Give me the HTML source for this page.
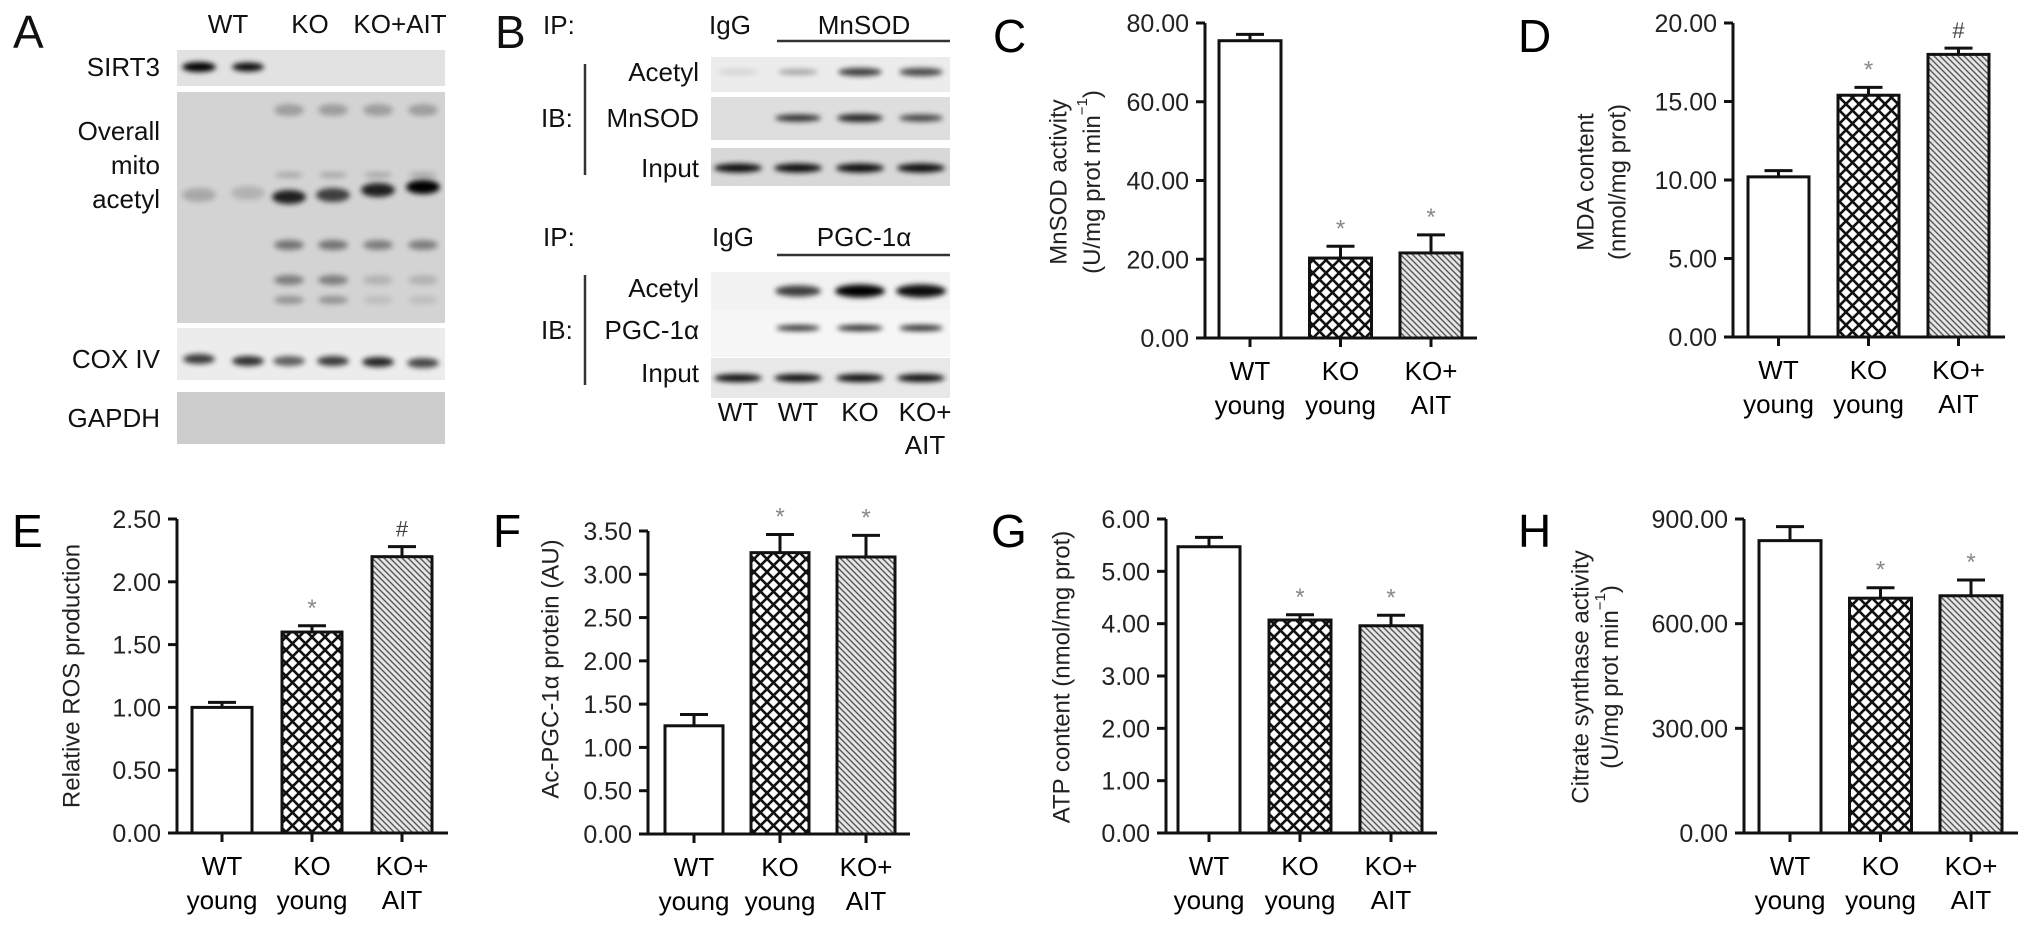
<!DOCTYPE html>
<html><head><meta charset="utf-8">
<style>
html,body{margin:0;padding:0;background:#fff;}
svg{display:block;font-family:"Liberation Sans",Arial,sans-serif;}
</style></head>
<body>
<svg id="fig" width="2032" height="929" viewBox="0 0 2032 929" xmlns="http://www.w3.org/2000/svg">
<defs>
  <filter id="blur3" x="-50%" y="-100%" width="200%" height="300%"><feGaussianBlur stdDeviation="2.6"/></filter>
  <filter id="blur1" x="-20%" y="-20%" width="140%" height="140%"><feGaussianBlur stdDeviation="1.2"/></filter>
  <pattern id="cross" patternUnits="userSpaceOnUse" width="13" height="13">
    <rect width="13" height="13" fill="#fff"/>
    <path d="M0,0 L13,13 M13,0 L0,13 M-1,12 L1,14 M12,-1 L14,1" stroke="#111" stroke-width="2.6"/>
  </pattern>
  <pattern id="diag" patternUnits="userSpaceOnUse" width="6" height="6">
    <rect width="6" height="6" fill="#e6e6e6"/>
    <path d="M-1,-1 L7,7 M-1,5 L1,7 M5,-1 L7,1" stroke="#555" stroke-width="1.4"/>
  </pattern>
</defs>
<g id="blots"></g>
<g id="charts"></g>
</svg>
<script>
// ---- chart data ----
const categoriesLine1 = ["WT", "KO", "KO+"];
const categoriesLine2 = ["young", "young", "AIT"];
const mnsodValues = [75.5, 20.3, 21.6];
const mnsodErrors = [1.6, 3.0, 4.6];
const mnsodMarks = ["", "*", "*"];
const mnsodTicks = [0, 20, 40, 60, 80];
const mdaValues = [10.2, 15.4, 18.0];
const mdaErrors = [0.4, 0.5, 0.4];
const mdaMarks = ["", "*", "#"];
const mdaTicks = [0, 5, 10, 15, 20];
const rosValues = [1.0, 1.6, 2.2];
const rosErrors = [0.04, 0.05, 0.08];
const rosMarks = ["", "*", "#"];
const rosTicks = [0, 0.5, 1.0, 1.5, 2.0, 2.5];
const pgcValues = [1.25, 3.25, 3.2];
const pgcErrors = [0.13, 0.21, 0.25];
const pgcMarks = ["", "*", "*"];
const pgcTicks = [0, 0.5, 1.0, 1.5, 2.0, 2.5, 3.0, 3.5];
const atpValues = [5.47, 4.07, 3.96];
const atpErrors = [0.18, 0.1, 0.2];
const atpMarks = ["", "*", "*"];
const atpTicks = [0, 1, 2, 3, 4, 5, 6];
const csValues = [838, 673, 680];
const csErrors = [40, 30, 45];
const csMarks = ["", "*", "*"];
const csTicks = [0, 300, 600, 900];

const NS = "http://www.w3.org/2000/svg";
function mk(parent, tag, attrs, text) {
  const e = document.createElementNS(NS, tag);
  for (const k in attrs) e.setAttribute(k, attrs[k]);
  if (text !== undefined) e.textContent = text;
  parent.appendChild(e);
  return e;
}
const charts = document.getElementById('charts');
const blots = document.getElementById('blots');
const fills = ["#fff", "url(#cross)", "url(#diag)"];

function drawChart(id, letter, letterPos, L, values, errors, marks, ticks, titleLines, titlePos) {
  const g = mk(charts, 'g', {});
  
  
  const max = ticks[ticks.length - 1];
  const yScale = v => L.y0 - (v / max) * (L.y0 - L.yTop);
  const xBar = i => L.bar0 + i * L.step;
  const lt = mk(g, 'text', {x: letterPos[0], y: letterPos[1], 'font-size': 46}, letter);
  
  
  // bars
  values.forEach((v, i) => {
    const x = xBar(i), yt = yScale(v), ye = yScale(v + errors[i]), cx = x + L.w / 2;
    const eb = mk(g, 'path', {d: `M${cx},${yt} L${cx},${ye} M${cx-14},${ye} L${cx+14},${ye}`, stroke: '#111', 'stroke-width': 3, fill: 'none'});
    
    
    const b = mk(g, 'rect', {x: x, y: yt, width: L.w, height: L.y0 - yt, fill: fills[i], stroke: '#111', 'stroke-width': 3});
    
    
    if (marks[i]) {
      const m = mk(g, 'text', {x: cx, y: ye - 10, 'text-anchor': 'middle', 'font-size': marks[i] === '*' ? 24 : 22, fill: marks[i] === '*' ? '#888' : '#444'}, marks[i]);
      
      
    }
    const xt = mk(g, 'line', {x1: cx, x2: cx, y1: L.y0, y2: L.y0 + 9, stroke: '#111', 'stroke-width': 3});
    
    
    const c1 = mk(g, 'text', {x: cx, y: L.y0 + 42, 'text-anchor': 'middle', 'font-size': 26}, categoriesLine1[i]);
    
    
    const c2 = mk(g, 'text', {x: cx, y: L.y0 + 76, 'text-anchor': 'middle', 'font-size': 26}, categoriesLine2[i]);
    
    
  });
  // axes
  const ax = mk(g, 'path', {d: `M${L.axisX},${L.yTop} L${L.axisX},${L.y0} M${L.axisX-9},${L.y0} L${L.end},${L.y0}`, stroke: '#111', 'stroke-width': 3, fill: 'none'});
  
  
  ticks.forEach(t => {
    const y = yScale(t);
    const tk = mk(g, 'line', {x1: L.axisX - 9, x2: L.axisX, y1: y, y2: y, stroke: '#111', 'stroke-width': 3});
    
    
    const tl = mk(g, 'text', {x: L.axisX - 16, y: y + 9, 'text-anchor': 'end', 'font-size': 25, fill: '#222'}, t.toFixed(2));
    
    
  });
  // title
  titleLines.forEach((ln, k) => {
    const [tx, ty] = titlePos[k];
    const t = mk(g, 'text', {x: 0, y: 0, transform: `translate(${tx},${ty}) rotate(-90)`, 'text-anchor': 'middle', 'dominant-baseline': 'central', 'font-size': 24, fill: '#222'});
    
    
    if (Array.isArray(ln)) {
      mk(t, 'tspan', {}, ln[0]);
      mk(t, 'tspan', {'font-size': 15, dy: -10}, '\u22121');
      mk(t, 'tspan', {dy: 10}, ln[1]);
    } else t.textContent = ln;
  });
}

drawChart('mnsod-activity', 'C', [993, 52], {axisX: 1205, y0: 338, yTop: 23, bar0: 1219, w: 62, step: 90.5, end: 1477},
  mnsodValues, mnsodErrors, mnsodMarks, mnsodTicks, ['MnSOD activity', ['(U/mg prot min', ')']], [[1059, 182], [1092, 182]]);
drawChart('mda-content', 'D', [1518, 52], {axisX: 1733, y0: 337, yTop: 23, bar0: 1748, w: 61, step: 90, end: 2005},
  mdaValues, mdaErrors, mdaMarks, mdaTicks, ['MDA content', '(nmol/mg prot)'], [[1586, 182], [1618, 182]]);
drawChart('ros-production', 'E', [12, 547], {axisX: 177, y0: 833, yTop: 519, bar0: 192, w: 60, step: 90, end: 448},
  rosValues, rosErrors, rosMarks, rosTicks, ['Relative ROS production'], [[72, 676]]);
drawChart('ac-pgc1a', 'F', [493, 547], {axisX: 648, y0: 834, yTop: 531, bar0: 665, w: 58, step: 86, end: 910},
  pgcValues, pgcErrors, pgcMarks, pgcTicks, ['Ac-PGC-1\u03b1 protein (AU)'], [[551, 669]]);
drawChart('atp-content', 'G', [991, 547], {axisX: 1166, y0: 833, yTop: 519, bar0: 1178, w: 62, step: 91, end: 1437},
  atpValues, atpErrors, atpMarks, atpTicks, ['ATP content (nmol/mg prot)'], [[1062, 677]]);
drawChart('citrate-synthase', 'H', [1518, 547], {axisX: 1744, y0: 833, yTop: 519, bar0: 1759, w: 62, step: 90.5, end: 2018},
  csValues, csErrors, csMarks, csTicks, ['Citrate synthase activity', ['(U/mg prot min', ')']], [[1581, 677], [1610, 677]]);

// ---- blots ----
function label(x, y, txt, anchor, size, name) {
  const t = mk(blots, 'text', {x: x, y: y, 'text-anchor': anchor || 'end', 'font-size': size || 26, fill: '#111'}, txt);
  
  
  return t;
}
function strip(x, y, w, h, fill, name) {
  const r = mk(blots, 'rect', {x: x, y: y, width: w, height: h, fill: fill});
  
  
}
function band(cx, cy, w, h, op) {
  const e = mk(blots, 'ellipse', {cx: cx, cy: cy, rx: w / 2, ry: h / 2, fill: '#000', opacity: op, filter: 'url(#blur3)'});
  
  
}
// Panel A
label(13, 48, 'A', 'start', 46, 'panel-letter-A');
label(228, 33, 'WT', 'middle', 26, 'lane-group-label');
label(310, 33, 'KO', 'middle', 26, 'lane-group-label');
label(400, 33, 'KO+AIT', 'middle', 26, 'lane-group-label');
strip(177, 50, 268, 36, '#e2e2e2', 'sirt3-blot');
strip(177, 92, 268, 231, '#d3d3d3', 'overall-mito-acetyl-blot');
strip(177, 328, 268, 52, '#ececec', 'cox-iv-blot');
strip(177, 392, 268, 52, '#cdcdcd', 'gapdh-blot');
const lanesA = [199, 248, 289, 333, 378, 423];
band(199, 67, 34, 10, 1); band(248, 67, 32, 9, 0.95);
[[199,195,.2],[248,193,.15],[289,197,.85],[333,195,.7],[378,190,.85],[423,187,1]].forEach(b => band(b[0], b[1], 34, 14, b[2]));
[289,333,378,423].forEach((x,i) => { band(x, 110, 30, 12, .25); band(x, 245, 30, 10, i<2?.45:.4); band(x, 280, 30, 10, i<2?.4:.15); band(x, 300, 30, 8, i<2?.3:.1); band(x, 175, 28, 6, .2); });
[[199,359,.75],[248,361,.8],[289,361,.6],[333,361,.75],[378,362,.85],[423,363,.7]].forEach(b => band(b[0], b[1], 32, 10, b[2]));
label(160, 76, 'SIRT3'); label(160, 140, 'Overall'); label(160, 174, 'mito'); label(160, 208, 'acetyl');
label(160, 368, 'COX IV'); label(160, 427, 'GAPDH');
// Panel B
label(495, 48, 'B', 'start', 46, 'panel-letter-B');
label(543, 34, 'IP:', 'start'); label(730, 34, 'IgG', 'middle'); label(864, 34, 'MnSOD', 'middle');
mk(blots, 'line', {x1: 777, x2: 950, y1: 41, y2: 41, stroke: '#333', 'stroke-width': 2.5});
label(541, 127, 'IB:', 'start');
mk(blots, 'line', {x1: 585, x2: 585, y1: 64, y2: 175, stroke: '#333', 'stroke-width': 2.5});
label(699, 81, 'Acetyl'); label(699, 127, 'MnSOD'); label(699, 177, 'Input');
strip(711, 57, 239, 35, '#ececec', 'mnsod-acetyl-blot');
strip(711, 97, 239, 43, '#dedede', 'mnsod-ib-blot');
strip(711, 148, 239, 38, '#d8d8d8', 'mnsod-input-blot');
const lanesB = [738, 798, 860, 921];
band(738, 72, 40, 6, .1); band(798, 72, 40, 6, .3); band(860, 72, 44, 8, .75); band(921, 72, 44, 8, .7);
band(798, 118, 46, 7, .8); band(860, 118, 46, 8, .85); band(921, 118, 44, 7, .7);
lanesB.forEach(x => band(x, 168, 48, 9, .95));
label(543, 246, 'IP:', 'start'); label(733, 246, 'IgG', 'middle'); label(864, 246, 'PGC-1\u03b1', 'middle');
mk(blots, 'line', {x1: 777, x2: 950, y1: 255, y2: 255, stroke: '#333', 'stroke-width': 2.5});
label(541, 339, 'IB:', 'start');
mk(blots, 'line', {x1: 585, x2: 585, y1: 275, y2: 385, stroke: '#333', 'stroke-width': 2.5});
label(699, 297, 'Acetyl'); label(699, 339, 'PGC-1\u03b1'); label(699, 382, 'Input');
strip(711, 272, 239, 38, '#f2f2f2', 'pgc-acetyl-blot');
strip(711, 310, 239, 47, '#f6f6f6', 'pgc-ib-blot');
strip(711, 358, 239, 40, '#e8e8e8', 'pgc-input-blot');
band(798, 291, 46, 11, .75); band(860, 291, 50, 13, 1); band(921, 291, 50, 13, .95);
band(798, 328, 44, 6, .8); band(860, 328, 46, 6, .85); band(921, 328, 44, 6, .85);
lanesB.forEach(x => band(x, 378, 48, 8, .95));
label(738, 421, 'WT', 'middle'); label(798, 421, 'WT', 'middle'); label(860, 421, 'KO', 'middle');
label(925, 421, 'KO+', 'middle'); label(925, 454, 'AIT', 'middle');
</script>
</body></html>
